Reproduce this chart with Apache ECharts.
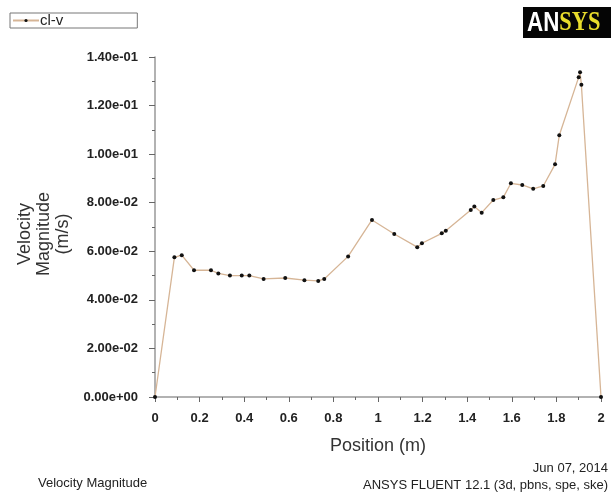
<!DOCTYPE html>
<html>
<head>
<meta charset="utf-8">
<script src="https://cdn.jsdelivr.net/npm/echarts@6/dist/echarts.min.js"></script>
<style>
  html, body { margin: 0; padding: 0; background: #fff; }
  #chart { width: 611px; height: 500px; }
</style>
</head>
<body>
<div id="chart"></div>
<script>
// position along the line (m)
var positions = [0, 0.087, 0.120, 0.175, 0.251, 0.284, 0.336, 0.389, 0.423, 0.487,
  0.584, 0.670, 0.732, 0.759, 0.866, 0.973, 1.073, 1.176, 1.197, 1.286,
  1.304, 1.416, 1.432, 1.465, 1.517, 1.562, 1.596, 1.647, 1.696, 1.741,
  1.794, 1.813, 1.900, 1.906, 1.912, 2.0];
// velocity magnitude (m/s)
var velocity = [0, 0.0575, 0.0584, 0.0522, 0.0522, 0.0509, 0.0500, 0.0500, 0.0500, 0.0486,
  0.0490, 0.0481, 0.0478, 0.0486, 0.0579, 0.0729, 0.0671, 0.0617, 0.0633, 0.0674,
  0.0685, 0.0770, 0.0784, 0.0759, 0.0811, 0.0822, 0.0880, 0.0873, 0.0857, 0.0869,
  0.0958, 0.1078, 0.1317, 0.1337, 0.1286, 0];
var yTickLabels = ['0.00e+00', '2.00e-02', '4.00e-02', '6.00e-02', '8.00e-02',
  '1.00e-01', '1.20e-01', '1.40e-01'];

var chart = echarts.init(document.getElementById('chart'), null, { renderer: 'canvas' });
var font = 'Liberation Sans, Arial, sans-serif';

var option = {
  backgroundColor: '#fff',
  animation: false,
  textStyle: { fontFamily: font },
  grid: { left: 155, right: 10, top: 57, bottom: 103 },
  legend: {
    left: 10,
    top: 13,
    padding: [0, 74, 0, 2],
    borderColor: '#777',
    borderWidth: 1,
    itemWidth: 26,
    itemHeight: 4,
    itemGap: 4,
    textStyle: { fontSize: 15, color: '#222', fontFamily: font, padding: [0, 0, 0, -4] },
    data: ['cl-v']
  },
  xAxis: {
    type: 'value',
    min: 0,
    max: 2,
    interval: 0.2,
    axisLine: { lineStyle: { color: '#999', width: 1.5 } },
    axisTick: { length: 5, lineStyle: { color: '#666' } },
    minorTick: { show: true, splitNumber: 2, length: 3, lineStyle: { color: '#666' } },
    splitLine: { show: false },
    axisLabel: { fontSize: 13, fontWeight: 'bold', color: '#222', margin: 15 },
    name: 'Position (m)',
    nameLocation: 'middle',
    nameGap: 40,
    nameTextStyle: { fontSize: 18, color: '#333' }
  },
  yAxis: {
    type: 'value',
    min: 0,
    max: 0.14,
    interval: 0.02,
    axisLine: { show: true, lineStyle: { color: '#999', width: 1.5 } },
    axisTick: { show: true, length: 6, lineStyle: { color: '#666' } },
    minorTick: { show: true, splitNumber: 2, length: 3, lineStyle: { color: '#666' } },
    splitLine: { show: false },
    axisLabel: {
      fontSize: 13,
      fontWeight: 'bold',
      color: '#222',
      margin: 17,
      formatter: function (v) { return yTickLabels[Math.round(v / 0.02)]; }
    }
  },
  graphic: [
    {
      type: 'text',
      x: 44,
      y: 234,
      rotation: Math.PI / 2,
      style: {
        text: 'Velocity\nMagnitude\n(m/s)',
        font: '18px ' + font,
        fill: '#333',
        align: 'center',
        verticalAlign: 'middle',
        lineHeight: 19
      }
    },
    {
      type: 'rect',
      shape: { x: 523, y: 7, width: 88, height: 31 },
      style: { fill: '#050505' }
    },
    {
      type: 'text',
      x: 527,
      y: 23,
      scaleX: 0.8,
      style: {
        text: '{a|AN}{b|SYS}',
        verticalAlign: 'middle',
        rich: {
          a: { font: 'bold 28px ' + font, fill: '#fff' },
          b: { font: 'bold 28px Liberation Serif, serif', fill: '#e8dc2c' }
        }
      }
    },
    {
      type: 'text',
      left: 38,
      top: 477,
      style: { text: 'Velocity Magnitude', font: '13px ' + font, fill: '#222' }
    },
    {
      type: 'text',
      right: 3,
      top: 462,
      style: { text: 'Jun 07, 2014', font: '13px ' + font, fill: '#222' }
    },
    {
      type: 'text',
      right: 3,
      top: 479,
      style: { text: 'ANSYS FLUENT 12.1 (3d, pbns, spe, ske)', font: '13px ' + font, fill: '#222' }
    }
  ],
  series: [
    {
      name: 'cl-v',
      type: 'line',
      data: positions.map(function (x, i) { return [x, velocity[i]]; }),
      symbol: 'circle',
      symbolSize: 4,
      showAllSymbol: true,
      itemStyle: { color: '#111' },
      lineStyle: { color: '#d6b596', width: 1.3 }
    }
  ]
};
chart.setOption(option);
</script>
</body>
</html>
